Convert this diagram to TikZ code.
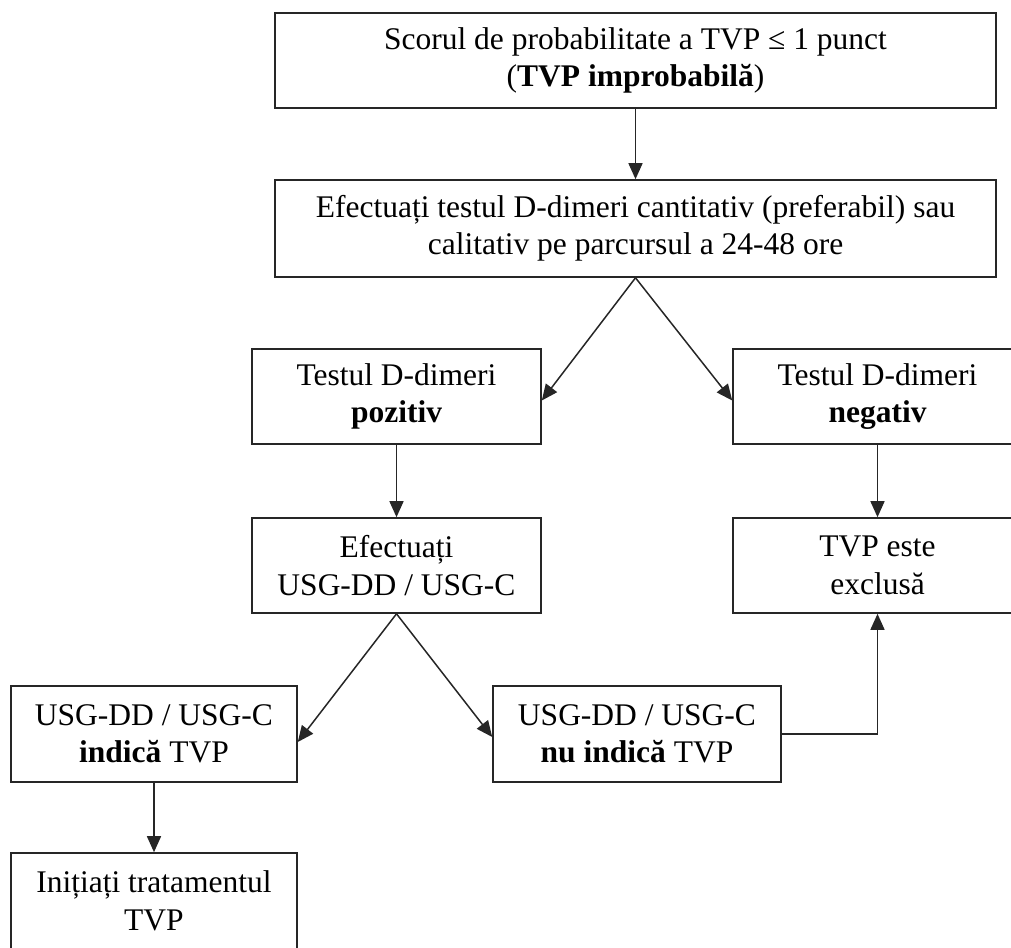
\documentclass[tikz,border=0pt]{standalone}
\usepackage{fontspec}
\setmainfont{Liberation Serif}
\usetikzlibrary{arrows.meta}
\begin{document}
\begin{tikzpicture}[x=1pt,y=-1pt,
  box/.style={draw=black!85,line width=1.6pt,align=center,inner sep=0pt,
    font=\fontsize{31.5}{37.5}\selectfont},
  arr/.style={draw=black!85,line width=1.5pt,-{Triangle[length=16pt,width=14pt]}}]
\useasboundingbox (0,0) rectangle (1011,947);
\node[box,minimum width=721pt,minimum height=95pt] (b1) at (635.5,60.5)
  {Scorul de probabilitate a TVP ≤ 1 punct\\(\textbf{TVP improbabilă})};
\node[box,minimum width=721pt,minimum height=97pt] (b2) at (635.5,228.5)
  {Efectuați testul D-dimeri cantitativ (preferabil) sau\\calitativ pe parcursul a 24-48 ore};
\node[box,minimum width=289pt,minimum height=95pt] (b3) at (396.5,396.5)
  {Testul D-dimeri\\\textbf{pozitiv}};
\node[box,minimum width=289pt,minimum height=95pt] (b4) at (877.5,396.5)
  {Testul D-dimeri\\\textbf{negativ}};
\node[box,minimum width=289pt,minimum height=95pt] (b5) at (396.5,565.5)
  {Efectuați\\USG-DD / USG-C};
\node[box,minimum width=289pt,minimum height=95pt] (b6) at (877.5,565.5)
  {TVP este\\exclusă};
\node[box,minimum width=286pt,minimum height=96pt] (b7) at (154,734)
  {USG-DD / USG-C\\\textbf{indică} TVP};
\node[box,minimum width=288pt,minimum height=96pt] (b8) at (637,734)
  {USG-DD / USG-C\\\textbf{nu indică} TVP};
\node[box,minimum width=286pt,minimum height=96pt] (b9) at (154,901)
  {Inițiați tratamentul\\TVP};
\draw[arr] (b1.south) -- (b2.north);
\draw[arr] (b2.south) -- ([yshift=-4pt]b3.east);
\draw[arr] (b2.south) -- ([yshift=-4pt]b4.west);
\draw[arr] (b3.south) -- (b5.north);
\draw[arr] (b4.south) -- (b6.north);
\draw[arr] (b5.south) -- ([yshift=-8pt]b7.east);
\draw[arr] (b5.south) -- ([yshift=-3pt]b8.west);
\draw[arr] (b7.south) -- (b9.north);
\draw[arr] (b8.east) -| (b6.south);
\end{tikzpicture}
\end{document}
